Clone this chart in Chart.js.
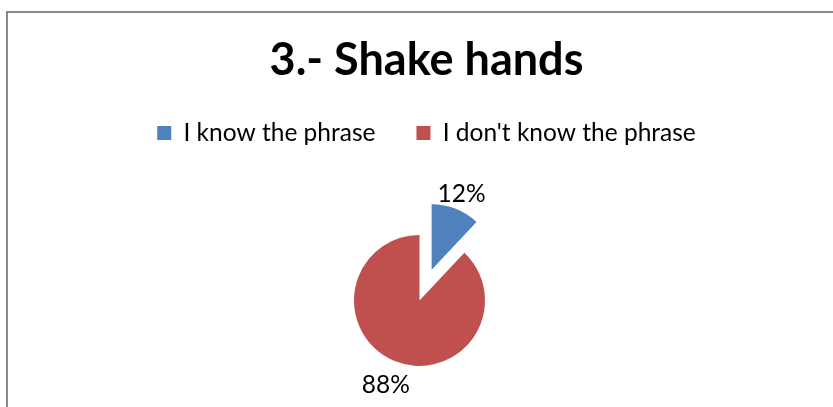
<!DOCTYPE html>
<html lang="en">
<head>
<meta charset="utf-8">
<title>3.- Shake hands</title>
<script src="https://cdn.jsdelivr.net/npm/chart.js@4.4.1/dist/chart.umd.min.js"></script>
<style>
    html, body { margin: 0; padding: 0; background: #fff; overflow: hidden; }
    #box { position: relative; width: 833px; height: 407px; overflow: hidden; }
    /* grey chart frame, runs off the right and bottom edges */
    #frame { position: absolute; left: 6px; top: 11px; width: 880px; height: 450px; border: 2px solid #898989; }
    #myChart { position: absolute; left: 0; top: 0; }
</style>
</head>
<body>
<div id="box">
    <div id="frame"></div>
    <canvas id="myChart" width="833" height="407"></canvas>
</div>
<script>
// survey answers for question 3
const answers = ["I know the phrase", "I don't know the phrase"];
const percents = [12, 88];
const colors = ["#4F81BD", "#C0504D"];

const FONT = "Lato, 'Open Sans', sans-serif";

// pulls a slice away from the centre without making it bigger
const explodeSlices = {
    id: 'explodeSlices',
    afterDatasetUpdate(chart, args, opts) {
        args.meta.data.forEach((arc, i) => {
            const d = opts.distance[i] || 0;
            const mid = (arc.startAngle + arc.endAngle) / 2;
            arc.x += Math.cos(mid) * d;
            arc.y += Math.sin(mid) * d;
        });
    }
};

// percent text just outside each slice
const sliceLabels = {
    id: 'sliceLabels',
    afterDatasetsDraw(chart, args, opts) {
        const {ctx} = chart;
        const values = chart.data.datasets[0].data;
        ctx.save();
        ctx.font = opts.font;
        ctx.fillStyle = opts.color;
        ctx.textAlign = 'center';
        ctx.textBaseline = 'middle';
        chart.getDatasetMeta(0).data.forEach((arc, i) => {
            const mid = (arc.startAngle + arc.endAngle) / 2;
            const r = arc.outerRadius + opts.gap[i];
            ctx.fillText(values[i] + '%', arc.x + Math.cos(mid) * r, arc.y + Math.sin(mid) * r);
        });
        ctx.restore();
    }
};

// the pie sits a bit left of and below the centre of the free space
const plotShift = {
    id: 'plotShift',
    afterLayout(chart, args, opts) {
        const a = chart.chartArea;
        a.left += opts.x;
        a.right += opts.x;
        a.top += opts.y;
        a.bottom += opts.y;
    }
};

new Chart(document.getElementById('myChart'), {
    type: 'pie',
    data: {
        labels: answers,
        datasets: [{
            data: percents,
            backgroundColor: colors,
            borderWidth: 0,
            radius: 65.5
        }]
    },
    options: {
        responsive: false,
        animation: false,
        events: [],
        layout: {
            padding: {left: 20}
        },
        plugins: {
            title: {
                display: true,
                text: '3.- Shake hands',
                color: '#000',
                font: {family: FONT, size: 45, weight: 'bold', lineHeight: 0.85},
                padding: {top: 41, bottom: 0.5}
            },
            legend: {
                position: 'top',
                labels: {
                    color: '#000',
                    font: {family: FONT, size: 24.5},
                    boxWidth: 14,
                    boxHeight: 14,
                    padding: 41
                }
            },
            tooltip: {enabled: false},
            explodeSlices: {distance: [33, 0]},
            sliceLabels: {font: '24.5px ' + FONT, color: '#000', gap: [16, 26]},
            plotShift: {x: -7, y: 19.3}
        }
    },
    plugins: [explodeSlices, sliceLabels, plotShift]
});
</script>
</body>
</html>
